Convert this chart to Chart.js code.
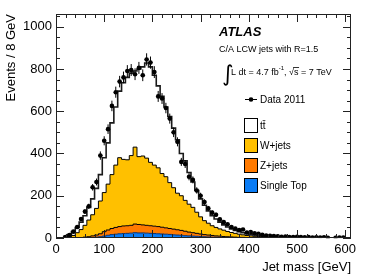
<!DOCTYPE html>
<html>
<head>
<meta charset="utf-8">
<script src="https://cdn.jsdelivr.net/npm/chart.js@4.4.0/dist/chart.umd.min.js"></script>
<style>
  html, body { margin: 0; padding: 0; background: #fff; }
  #wrap { width: 374px; height: 280px; }
</style>
</head>
<body>
<div id="wrap"><canvas id="massChart" width="374" height="280"></canvas></div>
<script>
// Jet mass histogram, 8 GeV bins (low edges)
const binLow = [0, 8, 16, 24, 32, 40, 48, 56, 64, 72, 80, 88, 96, 104, 112, 120, 128, 136, 144, 152,
  160, 168, 176, 184, 192, 200, 208, 216, 224, 232, 240, 248, 256, 264, 272, 280, 288, 296, 304, 312,
  320, 328, 336, 344, 352, 360, 368, 376, 384, 392, 400, 408, 416, 424, 432, 440, 448, 456, 464, 472,
  480, 488, 496, 504, 512, 520, 528, 536, 544, 552, 560, 568, 576, 584, 592];

// Data 2011 (events per bin)
const data2011 = [null, null, 4, 14, 30, 52, 90, 125, 150, 240, 265, 390, 460, 515, 625, 690, 740, 760, 790, 795,
  775, 805, 770, 845, 830, 785, 670, 660, 615, 565, 500, 455, 360, 350, 290, 275, 225, 200, 170, 140,
  120, 110, 88, 75, 65, 52, 45, 38, 40, 26, 28, 22, 20, 15, 12, 10, 9, 8, 6, 7,
  5, 4, 6, 4, 3, 4, 2, 3, 2, 3, 1, null, 1, 2, 2];

// MC components (not stacked)
const singleTop = [0, 0, 0, 0, 0, 0, 0, 0, 1, 2, 4, 6, 9, 13, 16, 18, 20, 21, 22, 23,
  25, 24, 24, 23, 22, 21, 20, 19, 18, 17, 15, 14, 13, 11, 10, 9, 8, 7, 6, 5,
  4, 4, 3, 3, 2, 2, 1, 1, 1, 0, 0, 0, 0, 0, 0, 0, 0, 0, 0, 0,
  0, 0, 0, 0, 0, 0, 0, 0, 0, 0, 0, 0, 0, 0, 0];
const zJets = [0, 0, 0, 0, 0, 1, 2, 4, 5, 8, 10, 14, 21, 25, 29, 32, 34, 36, 36, 37,
  41, 40, 38, 37, 36, 35, 34, 32, 30, 28, 27, 25, 23, 21, 18, 16, 14, 12, 10, 9,
  8, 6, 6, 4, 4, 3, 3, 2, 2, 2, 2, 1, 1, 1, 1, 1, 1, 1, 1, 1,
  1, 1, 1, 0, 0, 0, 0, 0, 0, 0, 0, 0, 0, 0, 0];
const wJets = [0, 0, 2, 5, 12, 24, 38, 56, 79, 100, 126, 155, 185, 217, 255, 295, 326, 315, 312, 330,
  364, 321, 326, 318, 300, 289, 278, 254, 242, 217, 196, 173, 164, 146, 132, 120, 100, 81, 66, 56,
  46, 40, 34, 30, 25, 21, 18, 15, 12, 10, 8, 7, 6, 5, 4, 3, 3, 2, 2, 1,
  1, 1, 1, 1, 1, 1, 1, 1, 1, 1, 0, 0, 0, 0, 0];
const ttbar = [0, 0, 6, 11, 18, 25, 35, 45, 60, 75, 95, 125, 165, 195, 245, 275, 315, 363, 390, 390,
  360, 415, 422, 450, 452, 425, 388, 365, 330, 313, 282, 253, 200, 187, 150, 120, 103, 85, 73, 58,
  47, 40, 32, 25, 21, 17, 14, 12, 10, 8, 7, 6, 5, 4, 4, 4, 3, 3, 2, 3,
  2, 2, 1, 2, 2, 1, 1, 1, 1, 1, 1, 1, 1, 1, 1];

const xTicks = [0, 100, 200, 300, 400, 500, 600];
const yTicks = [0, 200, 400, 600, 800, 1000];

const BIN_W = 8;
const FONT = "'Liberation Sans', Arial, Helvetica, sans-serif";
const COLORS = {
    single: '#0a7cf5',
    zjets: '#ff7a00',
    wjets: '#ffc000',
    ttbar: '#ffffff'
};

// running sums for the stack, bottom to top
function stackUp(...layers) {
    return binLow.map((_, i) => layers.reduce((s, l) => s + l[i], 0));
}
const stSum = stackUp(singleTop);
const zSum = stackUp(singleTop, zJets);
const wSum = stackUp(singleTop, zJets, wJets);
const totSum = stackUp(singleTop, zJets, wJets, ttbar);

// points at bin edges for a step outline
function steps(vals) {
    const pts = binLow.map((x, i) => ({ x: x, y: vals[i] }));
    pts.push({ x: binLow[binLow.length - 1] + BIN_W, y: vals[vals.length - 1] });
    return pts;
}

const dataPts = binLow.map((x, i) => ({ x: x + BIN_W / 2, y: data2011[i] }));

function stackSet(label, vals, color, fill, lineColor, lineW) {
    return {
        label: label,
        data: steps(vals),
        stepped: 'before',
        fill: fill,
        backgroundColor: color,
        borderColor: lineColor,
        borderWidth: lineW,
        pointRadius: 0,
        tension: 0
    };
}

// error bars + frame ticks + text
const rootStyle = {
    id: 'rootStyle',
    afterDatasetsDraw(chart) {
        const { ctx, chartArea: a, scales: { x, y } } = chart;
        ctx.save();
        ctx.strokeStyle = '#000';
        ctx.lineWidth = 1;

        // error bars on data
        ctx.beginPath();
        dataPts.forEach(p => {
            if (p.y == null) return;
            const err = Math.sqrt(p.y);
            const px = x.getPixelForValue(p.x);
            const y1 = y.getPixelForValue(p.y + err);
            const y2 = y.getPixelForValue(Math.max(p.y - err, 0));
            ctx.moveTo(px, y1); ctx.lineTo(px, y2);
            const py = y.getPixelForValue(p.y);
            ctx.moveTo(x.getPixelForValue(p.x - BIN_W / 2), py);
            ctx.lineTo(x.getPixelForValue(p.x + BIN_W / 2), py);
        });
        ctx.stroke();

        // frame
        ctx.strokeStyle = '#222';
        ctx.strokeRect(a.left + 0.5, a.top + 0.5, a.right - a.left - 1, a.bottom - a.top - 1);

        // ticks inside frame
        ctx.beginPath();
        for (let v = 0; v <= y.max; v += 50) {
            const py = Math.round(y.getPixelForValue(v)) + 0.5;
            const len = v % 200 === 0 ? 8 : 4;
            ctx.moveTo(a.left, py); ctx.lineTo(a.left + len, py);
            ctx.moveTo(a.right, py); ctx.lineTo(a.right - len, py);
        }
        for (let v = 0; v <= x.max; v += 20) {
            const px = Math.round(x.getPixelForValue(v)) + 0.5;
            const len = v % 100 === 0 ? 8 : 4;
            ctx.moveTo(px, a.bottom); ctx.lineTo(px, a.bottom - len);
            ctx.moveTo(px, a.top); ctx.lineTo(px, a.top + len);
        }
        ctx.stroke();
        ctx.restore();
    },
    afterDraw(chart) {
        const ctx = chart.ctx;
        ctx.save();
        ctx.fillStyle = '#000';
        ctx.textBaseline = 'alphabetic';
        ctx.textAlign = 'left';

        ctx.font = 'italic bold 13px ' + FONT;
        ctx.fillText('ATLAS', 219, 36);

        ctx.font = '9px ' + FONT;
        ctx.fillText('C/A LCW jets with R=1.5', 219, 52);

        // integral line
        ctx.font = '22px DejaVu Sans, sans-serif';
        ctx.fillText('\u222B', 222, 81);
        ctx.font = '9px ' + FONT;
        let tx = 231;
        const part1 = 'L dt = 4.7 fb';
        ctx.fillText(part1, tx, 75);
        tx += ctx.measureText(part1).width;
        ctx.font = '6px ' + FONT;
        ctx.fillText('-1', tx, 70);
        tx += ctx.measureText('-1').width;
        ctx.font = '9px ' + FONT;
        const part2 = ', \u221As = 7 TeV';
        ctx.fillText(part2, tx, 75);
        const sStart = tx + ctx.measureText(', \u221A').width;
        const sW = ctx.measureText('s').width;
        ctx.beginPath();
        ctx.lineWidth = 0.8;
        ctx.moveTo(sStart - 1, 67.5); ctx.lineTo(sStart + sW + 0.5, 67.5);
        ctx.stroke();

        // legend
        ctx.font = '10px ' + FONT;
        ctx.lineWidth = 1;
        ctx.beginPath();
        ctx.moveTo(245, 99.5); ctx.lineTo(257, 99.5);
        ctx.stroke();
        ctx.beginPath();
        ctx.arc(251, 99.5, 2.3, 0, Math.PI * 2);
        ctx.fill();
        ctx.fillText('Data 2011', 260, 103);

        const entries = [
            ['t\u0074\u0304', COLORS.ttbar],
            ['W+jets', COLORS.wjets],
            ['Z+jets', COLORS.zjets],
            ['Single Top', COLORS.single]
        ];
        entries.forEach((e, i) => {
            const top = 118 + i * 20;
            ctx.fillStyle = e[1];
            ctx.fillRect(244, top, 13, 14);
            ctx.strokeStyle = '#000';
            ctx.strokeRect(244.5, top + 0.5, 13, 14);
            ctx.fillStyle = '#000';
            ctx.fillText(e[0], 260, top + 11);
        });
        ctx.restore();
    }
};

const ctx = document.getElementById('massChart').getContext('2d');
new Chart(ctx, {
    type: 'line',
    data: {
        datasets: [
            stackSet('Single Top', stSum, COLORS.single, 'origin', '#10306a', 1),
            stackSet('Z+jets', zSum, COLORS.zjets, '-1', '#000', 1),
            stackSet('W+jets', wSum, COLORS.wjets, '-1', '#000', 1),
            stackSet('ttbar', totSum, COLORS.ttbar, '-1', '#1a1a1a', 1.6),
            {
                label: 'Data 2011',
                data: dataPts,
                showLine: false,
                pointRadius: 2.3,
                pointBackgroundColor: '#000',
                pointBorderColor: '#000',
                pointBorderWidth: 0,
                order: -1
            }
        ]
    },
    options: {
        responsive: false,
        animation: false,
        layout: { padding: { left: 0, top: 14, right: 23, bottom: 0 } },
        plugins: {
            legend: { display: false },
            tooltip: { enabled: false }
        },
        scales: {
            x: {
                type: 'linear',
                min: 0,
                max: 612,
                afterFit: s => { s.height = 42; },
                afterBuildTicks: s => { s.ticks = xTicks.map(v => ({ value: v })); },
                grid: { display: false, drawTicks: false },
                border: { display: false },
                ticks: {
                    autoSkip: false,
                    maxRotation: 0,
                    padding: 4,
                    color: '#000',
                    font: { family: FONT, size: 13 },
                    callback: v => String(v)
                },
                title: {
                    display: true,
                    text: 'Jet mass [GeV]',
                    align: 'end',
                    color: '#000',
                    font: { family: FONT, size: 13 },
                    padding: { top: 0, bottom: 5 }
                }
            },
            y: {
                type: 'linear',
                min: 0,
                max: 1060,
                afterFit: s => { s.width = 56; },
                afterBuildTicks: s => { s.ticks = yTicks.map(v => ({ value: v })); },
                grid: { display: false, drawTicks: false },
                border: { display: false },
                ticks: {
                    padding: 4,
                    color: '#000',
                    font: { family: FONT, size: 13 },
                    callback: v => String(v)
                },
                title: {
                    display: true,
                    text: 'Events / 8 GeV',
                    align: 'end',
                    color: '#000',
                    font: { family: FONT, size: 13 },
                    padding: { top: 4, bottom: 0 }
                }
            }
        }
    },
    plugins: [rootStyle]
});
</script>
</body>
</html>
